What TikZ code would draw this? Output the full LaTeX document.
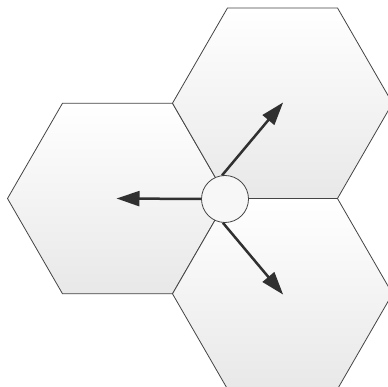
\documentclass[tikz,border=0pt]{standalone}
\usetikzlibrary{shapes.geometric,arrows.meta}
\definecolor{edge}{HTML}{444444}
\definecolor{arrowc}{HTML}{303030}
\tikzset{
  hexcell/.style={regular polygon, regular polygon sides=6, minimum size=220pt,
    inner sep=0pt, outer sep=0pt, draw=edge, line width=0.8pt,
    top color=white, bottom color=black!9},
  hub/.style={circle, minimum size=47pt, inner sep=0pt, draw=edge, line width=0.8pt,
    fill=black!3},
  push/.style={draw=arrowc, line width=2.5pt,
    -{Triangle[length=23pt,width=15pt]}, shorten >=-1pt}
}
\begin{document}
\begin{tikzpicture}[x=1pt,y=-1pt]
\useasboundingbox[fill=white] (0,0) rectangle (388,387);
\node[hexcell] (hexL) at (117.5,198.5) {};
\node[hexcell] (hexTR) at (282.5,103.2) {};
\node[hexcell] (hexBR) at (282.5,293.8) {};
\node[hub] (c) at (225,199) {};
\draw[push] (c.west) -- (hexL.center);
\draw[push] (c.97) -- (hexTR.center);
\draw[push] (c.-95) -- (hexBR.center);
\end{tikzpicture}
\end{document}
